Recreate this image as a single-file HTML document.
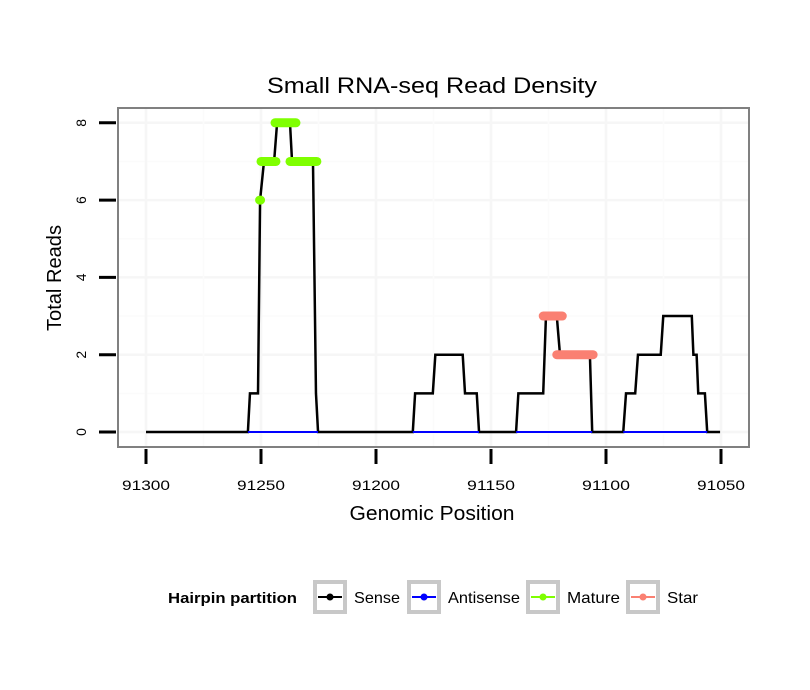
<!DOCTYPE html>
<html><head><meta charset="utf-8"><style>
body{margin:0;background:#fff;}
svg{display:block;font-family:"Liberation Sans",sans-serif;}
</style></head><body>
<svg id="chart" width="810" height="690" xmlns="http://www.w3.org/2000/svg">
<text x="432" y="93" text-anchor="middle" font-size="22" textLength="330" lengthAdjust="spacingAndGlyphs">Small RNA-seq Read Density</text>
<g id="grid"></g>
<g id="marks"></g>
<rect x="118" y="108" width="631" height="339" fill="none" stroke="#808080" stroke-width="2"/>
<g id="axes"></g>
<text x="432" y="520" text-anchor="middle" font-size="20" textLength="165" lengthAdjust="spacingAndGlyphs">Genomic Position</text>
<text transform="translate(61,278) rotate(-90)" text-anchor="middle" font-size="20" textLength="106" lengthAdjust="spacingAndGlyphs">Total Reads</text>
<g>
<text x="168" y="603" font-size="15" font-weight="bold" textLength="129" lengthAdjust="spacingAndGlyphs">Hairpin partition</text>
<g><rect x="315" y="582" width="30" height="30" fill="#fff" stroke="#c8c8c8" stroke-width="4"/><line x1="318" y1="597" x2="342" y2="597" stroke="#000" stroke-width="2"/><circle cx="330" cy="597" r="3.5" fill="#000"/><text x="354" y="603" font-size="16" textLength="46" lengthAdjust="spacingAndGlyphs">Sense</text></g>
<g><rect x="409" y="582" width="30" height="30" fill="#fff" stroke="#c8c8c8" stroke-width="4"/><line x1="412" y1="597" x2="436" y2="597" stroke="#0000ff" stroke-width="2"/><circle cx="424" cy="597" r="3.5" fill="#0000ff"/><text x="448" y="603" font-size="16" textLength="72" lengthAdjust="spacingAndGlyphs">Antisense</text></g>
<g><rect x="528" y="582" width="30" height="30" fill="#fff" stroke="#c8c8c8" stroke-width="4"/><line x1="531" y1="597" x2="555" y2="597" stroke="#7fff00" stroke-width="2"/><circle cx="543" cy="597" r="3.5" fill="#7fff00"/><text x="567" y="603" font-size="16" textLength="53" lengthAdjust="spacingAndGlyphs">Mature</text></g>
<g><rect x="628" y="582" width="30" height="30" fill="#fff" stroke="#c8c8c8" stroke-width="4"/><line x1="631" y1="597" x2="655" y2="597" stroke="#fa8072" stroke-width="2"/><circle cx="643" cy="597" r="3.5" fill="#fa8072"/><text x="667" y="603" font-size="16" textLength="31" lengthAdjust="spacingAndGlyphs">Star</text></g>
</g>
</svg>
<script>
const xTicks=[91300,91250,91200,91150,91100,91050];
const yTicks=[0,2,4,6,8];
const sensePos=[91300,91255.7,91254.8,91251.3,91250.4,91248.7,91244.3,91243,91237.4,91236.5,91227.4,91226.1,91225.2,91184,91183,91175.3,91174.2,91162.3,91161.3,91156.2,91155.2,91139.1,91138.1,91127.3,91126.1,91121.4,91120,91107,91106,91092.5,91091.3,91087.3,91086.1,91076.2,91075.1,91062.7,91062,91060.6,91059.9,91057,91056,91050.4];
const senseVal=[0,0,1,1,6,7,7,8,8,7,7,1,0,0,1,1,2,2,1,1,0,0,1,1,3,3,2,2,0,0,1,1,2,2,3,3,2,2,1,1,0,0];
const antiStart=[91255.7,91184,91139.1,91092.5];
const antiEnd=[91225.2,91155.2,91106,91056];
const matureStart=[91250.6,91250,91243.9,91237.4];
const matureEnd=[91250.2,91243.5,91234.8,91225.7];
const matureVal=[6,7,8,7];
const starStart=[91127.3,91121.4];
const starEnd=[91119,91105.6];
const starVal=[3,2];

const NS="http://www.w3.org/2000/svg";
const x=g=>146+(91300-g)*2.3;
const y=v=>432-v*38.65;
function mk(tag,attrs,parent){const e=document.createElementNS(NS,tag);for(const k in attrs)e.setAttribute(k,attrs[k]);parent.appendChild(e);return e;}
const grid=document.getElementById('grid'),marks=document.getElementById('marks'),axes=document.getElementById('axes');
for(let v=0;v<=8;v++){const l=mk('line',{x1:118,x2:749,y1:y(v),y2:y(v),stroke:v%2?'#fbfbfb':'#f6f6f6','stroke-width':v%2?1.5:2.5},grid);

}
for(let g=91300;g>=91050;g-=25){const l=mk('line',{x1:x(g),x2:x(g),y1:108,y2:447,stroke:g%50?'#fbfbfb':'#f6f6f6','stroke-width':g%50?1.5:2.5},grid);

}
xTicks.forEach(t=>{const l=mk('line',{x1:x(t),x2:x(t),y1:449,y2:464,stroke:'#000','stroke-width':3},axes);


const tx=mk('text',{x:x(t),y:490,'text-anchor':'middle','font-size':14,textLength:48,lengthAdjust:'spacingAndGlyphs'},axes);tx.textContent=t;

});
yTicks.forEach(t=>{const l=mk('line',{x1:99,x2:116,y1:y(t),y2:y(t),stroke:'#000','stroke-width':3},axes);


const tx=mk('text',{transform:`translate(${86},${y(t)}) rotate(-90)`,'text-anchor':'middle','font-size':14},axes);tx.textContent=t;

});
const sp=mk('polyline',{points:sensePos.map((g,i)=>x(g)+','+y(senseVal[i])).join(' '),fill:'none',stroke:'#000','stroke-width':2.5},marks);


antiStart.forEach((s,i)=>{const l=mk('line',{x1:x(s),x2:x(antiEnd[i]),y1:y(0),y2:y(0),stroke:'#0000ff','stroke-width':2},marks);

});
matureStart.forEach((s,i)=>{const l=mk('line',{x1:x(s),x2:x(matureEnd[i]),y1:y(matureVal[i]),y2:y(matureVal[i]),stroke:'#7fff00','stroke-width':9,'stroke-linecap':'round'},marks);

});
starStart.forEach((s,i)=>{const l=mk('line',{x1:x(s),x2:x(starEnd[i]),y1:y(starVal[i]),y2:y(starVal[i]),stroke:'#fa8072','stroke-width':9,'stroke-linecap':'round'},marks);

});
</script>
</body></html>
